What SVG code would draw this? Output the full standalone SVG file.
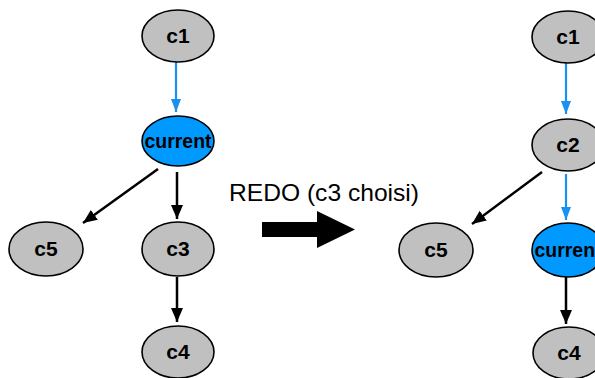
<svg xmlns="http://www.w3.org/2000/svg" width="595" height="378" viewBox="0 0 595 378">
  <style>
    .node { fill: #c0c0c0; stroke: #000; stroke-width: 1.6; }
    .cur { fill: #0099ff; stroke: #000; stroke-width: 1.6; }
    .lbl { font-family: "Liberation Sans", Arial, sans-serif; font-weight: bold; font-size: 21px; text-anchor: middle; fill: #000; }
    .blk { stroke: #000; stroke-width: 2.5; fill: none; marker-end: url(#headBlack); }
    .blu { stroke: #1a90f0; stroke-width: 2.2; fill: none; marker-end: url(#headBlue); }
    .title { font-family: "Liberation Sans", Arial, sans-serif; font-size: 24px; fill: #000; }
  </style>
  <defs>
    <marker id="headBlack" markerUnits="userSpaceOnUse" markerWidth="15" markerHeight="12" refX="14" refY="6" orient="auto">
      <path d="M0,0 L14,6 L0,12 Z" fill="#000"/>
    </marker>
    <marker id="headBlue" markerUnits="userSpaceOnUse" markerWidth="14" markerHeight="12" refX="13" refY="5" orient="auto">
      <path d="M0,0 L13,5 L0,10 Z" fill="#1a90f0"/>
    </marker>
  </defs>
  <rect width="595" height="378" fill="#fff"/>

  <!-- connectors -->
  <g id="connectors">
    <!-- before -->
    <line class="blu" x1="176" y1="62" x2="176" y2="112"/>
    <line class="blk" x1="158" y1="169" x2="83" y2="223"/>
    <line class="blk" x1="177" y1="172" x2="177" y2="219"/>
    <line class="blk" x1="177" y1="277" x2="177" y2="322"/>
    <!-- after -->
    <line class="blu" x1="566" y1="63" x2="566" y2="114"/>
    <line class="blk" x1="542" y1="172" x2="472" y2="224"/>
    <line class="blu" x1="566" y1="174" x2="566" y2="220"/>
    <line class="blk" x1="566" y1="277" x2="566" y2="324"/>
  </g>

  <!-- tree before the redo -->
  <g id="l-c1"><ellipse class="node" cx="178" cy="36" rx="36" ry="26"/><text class="lbl" x="178" y="43">c1</text></g>
  <g id="l-current"><ellipse class="cur" cx="178" cy="141" rx="36" ry="25"/><text class="lbl" x="178" y="148" textLength="67" lengthAdjust="spacingAndGlyphs">current</text></g>
  <g id="l-c5"><ellipse class="node" cx="46" cy="249" rx="37" ry="27"/><text class="lbl" x="46" y="256">c5</text></g>
  <g id="l-c3"><ellipse class="node" cx="178" cy="249" rx="36" ry="27"/><text class="lbl" x="178" y="256">c3</text></g>
  <g id="l-c4"><ellipse class="node" cx="178" cy="352" rx="36" ry="26"/><text class="lbl" x="178" y="359">c4</text></g>

  <!-- transition -->
  <g id="redo">
    <text class="title" x="229" y="201" textLength="190" lengthAdjust="spacingAndGlyphs">REDO (c3 choisi)</text>
    <polygon points="262,222 317,222 317,211 355,229.5 317,248 317,237 262,237" fill="#000"/>
  </g>

  <!-- tree after the redo (right edge runs past the frame) -->
  <g id="r-c1"><ellipse class="node" cx="568" cy="37" rx="36" ry="26"/><text class="lbl" x="568" y="44">c1</text></g>
  <g id="r-c2"><ellipse class="node" cx="568" cy="145" rx="36" ry="26"/><text class="lbl" x="568" y="152">c2</text></g>
  <g id="r-c5"><ellipse class="node" cx="436" cy="250" rx="37" ry="27"/><text class="lbl" x="436" y="257">c5</text></g>
  <g id="r-current"><ellipse class="cur" cx="568" cy="250" rx="36" ry="27"/><text class="lbl" x="568" y="257" textLength="67" lengthAdjust="spacingAndGlyphs">current</text></g>
  <g id="r-c4"><ellipse class="node" cx="569" cy="353" rx="36" ry="26"/><text class="lbl" x="569" y="360">c4</text></g>
</svg>
